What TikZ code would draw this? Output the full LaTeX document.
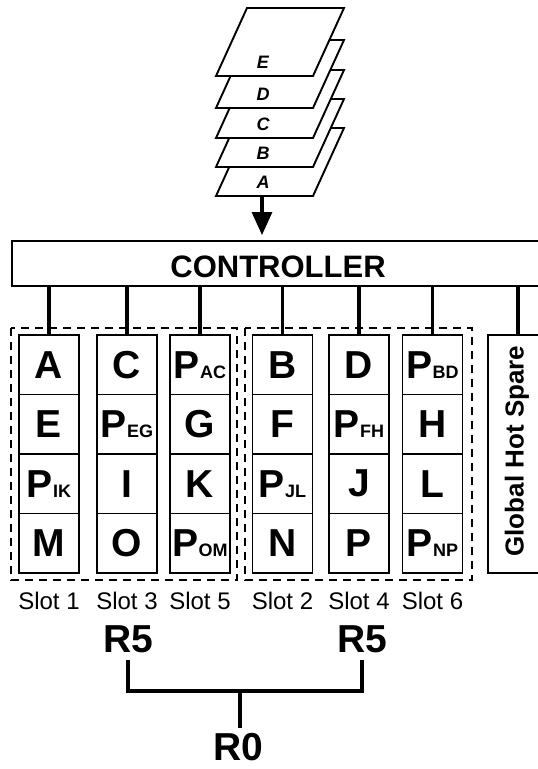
\documentclass[tikz,border=0pt]{standalone}
\usepackage{fontspec}
\setmainfont{Liberation Sans}
\usetikzlibrary{arrows.meta}
\newcommand\Ps[1]{P{\fontsize{18}{18}\selectfont #1}}
\begin{document}
\begin{tikzpicture}[x=1pt,y=-1pt,
  cell/.style={draw,line width=1.9pt,minimum width=60pt,minimum height=59.5pt,inner sep=0pt,font=\fontsize{39}{39}\selectfont\bfseries},
  conn/.style={line width=3.2pt},
  grp/.style={line width=2pt,dash pattern=on 8pt off 6pt},
  layer/.style={draw,fill=white,line width=1.9pt,line join=miter},
  laylbl/.style={inner sep=0pt,font=\fontsize{18}{18}\selectfont\bfseries\itshape},
  slotlbl/.style={inner sep=0pt,font=\fontsize{24}{24}\selectfont},
  rlbl/.style={inner sep=0pt,font=\fontsize{39}{39}\selectfont\bfseries},
  bigbox/.style={draw,line width=1.9pt,inner sep=0pt}]
\useasboundingbox (0,0) rectangle (538,769);
\clip (0,0) rectangle (538,769);
\fill[white] (0,0) rectangle (538,769);
% stacked layers
\foreach \t/\l in {128/A,99/B,70/C,40/D,8/E} {
  \draw[layer] (247,\t) -- (344,\t) -- (313,\t+68) -- (216,\t+68) -- cycle;
  \node[laylbl] (lay\l) at (263,\t+54) {\l};
}
\coordinate (stackbot) at (262,197);
% controller
\node[bigbox,minimum width=533pt,minimum height=45pt] (ctrl) at (278.5,263.5) {};
\node[inner sep=0pt,font=\fontsize{31}{31}\selectfont\bfseries] (ctrltxt) at (278,266.5) {CONTROLLER};
\draw[line width=3.2pt,-{Triangle[length=23pt,width=20pt]},shorten >=5pt] (stackbot) -- (ctrl.north -| stackbot);
% group boxes
\draw[grp] (11,328) rectangle (237,580);
\draw[grp] (245,328) rectangle (472,580);
% slots
\foreach \n/\x/\a/\b/\c/\d in {1/49/A/E/{\Ps{IK}}/M,3/127/C/{\Ps{EG}}/I/O,5/200/{\Ps{AC}}/G/K/{\Ps{OM}},2/282.5/B/F/{\Ps{JL}}/N,4/359/D/{\Ps{FH}}/J/P,6/432.5/{\Ps{BD}}/H/L/{\Ps{NP}}} {
  \node[cell] (s\n r1) at (\x,364.75) {\a};
  \node[cell] (s\n r2) at (\x,424.25) {\b};
  \node[cell] (s\n r3) at (\x,483.75) {\c};
  \node[cell] (s\n r4) at (\x,543.25) {\d};
  \node[slotlbl] (lbl\n) at (\x,601) {Slot \n};
  \draw[conn] (ctrl.south -| s\n r1.north) -- (s\n r1.north);
}
% global hot spare
\node[bigbox,minimum width=60pt,minimum height=238pt] (spare) at (518,454) {};
\node[rotate=90,inner sep=0pt,font=\fontsize{26}{26}\selectfont\bfseries] (sparetxt) at (517,451) {Global Hot Spare};
\draw[conn] (ctrl.south -| spare.north) -- (spare.north);
% RAID labels
\node[rlbl] (r5a) at (128,639) {R5};
\node[rlbl] (r5b) at (362,639) {R5};
\node[rlbl] (r0) at (238,747) {R0};
\coordinate (join) at (240,691);
\draw[conn,shorten <=7pt,shorten >=7pt] (r5a.south) |- (join) -| (r5b.south);
\draw[conn,shorten >=5pt] (join) -- (join |- r0.north);
\end{tikzpicture}
\end{document}
